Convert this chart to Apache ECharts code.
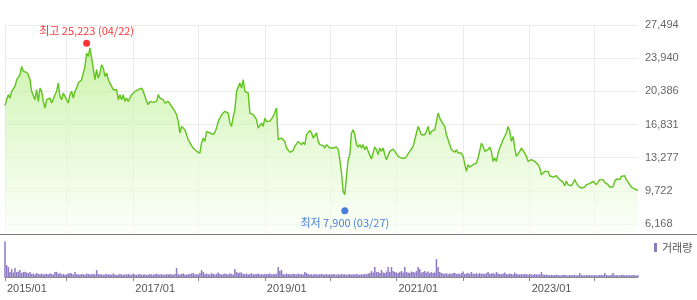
<!DOCTYPE html>
<html>
<head>
<meta charset="utf-8">
<script src="https://cdn.jsdelivr.net/npm/echarts@6/dist/echarts.min.js"></script>
<style>html,body{margin:0;padding:0;background:#fff;}#c{width:697px;height:300px;}</style>
</head>
<body>
<div id="c"></div>
<script>
// ---- data ----
const closePrice = [
18850,19490,20030,19670,20380,20200,20920,21630,21630,22170,
23060,22530,22350,22420,22170,21630,20380,20560,19490,20560,
19310,20740,20380,19310,18600,19490,19670,19670,19130,19130,
20030,20380,21280,19850,19490,20200,20030,19490,19130,20030,
20380,19670,20380,20740,21280,21100,21630,22350,23060,24490,
24130,25030,23950,24130,21630,22700,21810,22350,23240,22880,
21990,22350,21630,21450,20920,20560,20560,20560,19490,20030,
19490,20030,19310,19670,19310,19670,20030,20030,20380,20380,
20560,20380,20740,20380,19850,19310,18950,19310,19130,19200,
19060,19310,20030,19670,19850,19490,19130,
18950,19310,19130,18770,18600,18240,17880,17170,15920,16630,
16450,16270,16100,15200,14850,14560,14310,14130,13950,13850,
13770,14850,15380,15020,16100,16270,15920,16100,15740,15990,
16450,17170,17520,17880,18060,18240,18420,18060,16990,16630,
17700,18420,20380,20380,21280,20740,21630,20380,20200,20200,
18060,17880,17880,17700,17350,16450,16450,16990,16630,17520,
17170,17350,17170,17170,17700,17880,18600,15200,15380,15380,
15200,15020,14310,14130,13850,13950,14060,14490,14560,15020,
14850,14670,14920,14670,15740,15560,16200,15920,15380,15270,
15920,15020,14670,
14490,14560,14310,14670,14490,14310,14130,14310,14490,14420,
14130,13060,11630,9670,9310,11270,13060,13600,15920,16270,
15740,14670,14420,14670,14310,14670,14130,14490,13950,13850,
13130,13240,14420,14130,13600,14310,13950,14310,13600,13060,
13130,13950,14060,14200,13950,13770,13420,13350,13240,13420,
13200,13420,13310,13950,14060,14490,15200,15920,16630,16810,
15740,15740,15740,16100,16630,15740,16100,16100,16270,17170,
18060,17520,17170,16990,16630,15740,15200,15020,14130,13950,
13850,14130,13770,13600,13770,13420,13240,11810,12520,12270,
12350,12520,12700,12700,13240,13420,
14840,14490,13950,13770,14130,14420,13950,12880,13240,12880,
13770,14310,14490,15200,15020,15920,16630,16100,15020,15560,
14310,13420,13590,13950,14310,14130,13770,13420,12880,12880,
13060,13060,12880,12700,12520,12170,11450,11450,11810,11630,
11810,11340,11270,11200,11270,11340,11200,10920,10740,10630,
10270,10740,10380,10560,10270,10560,10920,10560,10270,10130,
10020,10130,10130,10380,10380,10490,10380,10740,10560,10380,
10630,10920,10990,10920,10630,10490,10380,10130,10020,10130,
10740,10990,11090,10920,11270,11090,11340,10920,10740,10380,
10130,10020,9920,9840,9770
];
const volume = [
3600,1200,1000,500,800,450,900,500,550,700,400,500,520,450,380,500,300,350,250,400,
300,280,350,250,300,320,260,380,300,250,500,520,300,400,250,300,220,280,350,400,
350,250,500,300,260,240,300,280,220,350,300,250,280,320,260,700,300,250,280,220,
260,300,240,280,220,350,260,200,240,300,260,220,280,240,300,260,220,350,240,200,
260,300,220,250,280,200,240,300,260,220,280,350,240,260,300,220,250,280,240,300,
260,220,300,900,280,240,300,350,260,220,300,280,350,400,260,300,240,400,700,500,
300,350,280,260,400,300,250,320,450,300,260,280,350,300,250,380,300,260,800,500,
400,450,450,300,280,350,260,300,380,250,300,280,350,260,300,250,320,280,300,350,
260,300,280,350,1000,600,700,300,260,350,280,300,250,320,300,260,350,280,300,250,
500,400,300,250,280,220,300,260,240,280,300,250,260,300,220,280,250,300,260,240,
280,250,300,260,280,220,260,300,240,280,250,300,260,220,280,240,300,260,350,400,
600,450,1000,500,500,400,700,450,400,550,1000,500,1000,600,500,450,400,500,600,450,
1000,500,450,400,550,500,450,600,1000,800,450,500,600,450,550,400,500,400,450,1800,
1000,500,400,350,300,400,280,350,300,400,400,300,350,280,400,550,300,350,400,300,
500,350,300,400,280,400,300,350,280,400,500,300,350,400,300,500,350,300,280,350,
450,300,280,350,300,260,450,300,280,250,300,260,300,280,250,300,260,220,300,250,
280,240,500,260,220,250,200,180,220,200,180,240,200,160,180,220,200,180,160,200,
180,200,220,160,180,400,200,180,160,200,180,220,160,180,200,160,180,200,220,180,
400,200,180,160,220,400,180,200,160,180,200,220,180,160,200,180,160,200,180,160,
180
];
const yearTickIndex = [0, 37, 77, 116, 156, 195, 235, 275, 315, 354];
const yearTickLabel = ['2015/01', '', '2017/01', '', '2019/01', '', '2021/01', '', '2023/01', ''];
const priceTickLabels = ['6,168', '9,722', '13,277', '16,831', '20,386', '23,940', '27,494'];
const priceAxisMin = 5096, priceAxisMax = 27494;
const highPoint = { index: 49, value: 25223, label: '최고 25,223 (04/22)' };
const lowPoint = { index: 204, value: 7900, label: '최저 7,900 (03/27)' };
const volumeName = '거래량';

// ---- chart ----
const cats = closePrice.map((_, i) => String(i));
const isYear = (i) => yearTickIndex.indexOf(i) >= 0;
const labelFor = (i) => { const k = yearTickIndex.indexOf(i); return k >= 0 ? yearTickLabel[k] : ''; };
const chart = echarts.init(document.getElementById('c'), null, { renderer: 'canvas' });
chart.setOption({
  animation: false,
  textStyle: { fontFamily: 'Liberation Sans, Arial, sans-serif' },
  grid: [
    { left: 5, right: 59, top: 25, height: 209 },
    { left: 5, right: 59, top: 240, height: 37 },
    { left: 5, right: 59, top: 25, height: 199 }
  ],
  legend: {
    data: [{ name: volumeName, icon: 'rect' }],
    left: 654, top: 242, itemWidth: 3, itemHeight: 9, itemGap: 0, padding: 0,
    selectedMode: false,
    textStyle: { fontSize: 11, color: '#555', fontFamily: 'Noto Sans CJK KR' }
  },
  xAxis: [
    { type: 'category', gridIndex: 0, data: cats, boundaryGap: false,
      axisLine: { show: false }, axisTick: { show: false }, axisLabel: { show: false },
      splitLine: { show: true, interval: (i) => isYear(i), lineStyle: { color: '#ebebeb', width: 1 } } },
    { type: 'category', gridIndex: 1, data: cats, boundaryGap: false,
      axisLine: { show: true, lineStyle: { color: '#8a8a8a' } },
      axisTick: { show: true, interval: (i) => isYear(i), length: 4, lineStyle: { color: '#8a8a8a' } },
      axisLabel: { show: true, interval: (i) => labelFor(i) !== '', formatter: (v, i) => labelFor(i),
        align: 'left', margin: 6, padding: [0, 0, 0, 2], color: '#555', fontSize: 11,
        fontFamily: 'Liberation Sans, Arial, sans-serif' },
      splitLine: { show: false } },
    { type: 'value', gridIndex: 2, min: 0, max: 1, show: false }
  ],
  yAxis: [
    { type: 'value', gridIndex: 0, min: priceAxisMin, max: priceAxisMax, show: false, splitLine: { show: false } },
    { type: 'value', gridIndex: 1, min: 0, max: 3730, show: false, splitLine: { show: false } },
    { type: 'value', gridIndex: 2, min: 0, max: priceTickLabels.length - 1, interval: 1, position: 'right',
      axisLine: { show: false }, axisTick: { show: false },
      axisLabel: { margin: 7, color: '#666', fontSize: 11, formatter: (v) => priceTickLabels[Math.round(v)],
        fontFamily: 'Liberation Sans, Arial, sans-serif' },
      splitLine: { show: true, lineStyle: { color: '#ebebeb', width: 1 } } }
  ],
  series: [
    { type: 'line', name: 'grid', xAxisIndex: 2, yAxisIndex: 2, data: [], silent: true },
    { type: 'line', name: 'price', xAxisIndex: 0, yAxisIndex: 0, data: closePrice,
      showSymbol: false, symbol: 'none', smooth: false, z: 3,
      lineStyle: { color: '#5fc41c', width: 1.4 },
      areaStyle: { origin: 'start', color: new echarts.graphic.LinearGradient(0, 0, 0, 1, [
        { offset: 0, color: '#b6ec86' }, { offset: 0.5, color: '#dcf7c6' }, { offset: 1, color: '#fafff6' }]) } },
    { type: 'scatter', name: 'marks', xAxisIndex: 0, yAxisIndex: 0, z: 5, clip: false,
      symbolSize: 7,
      data: [
        { value: [highPoint.index, highPoint.value], symbolOffset: [0, -3],
          itemStyle: { color: '#ff0000' },
          label: { show: true, position: 'top', distance: 3, formatter: highPoint.label,
            color: '#ff0000', fontSize: 11, fontFamily: 'Noto Sans CJK KR' } },
        { value: [lowPoint.index, lowPoint.value], symbolOffset: [0, 3],
          itemStyle: { color: '#1a5fd4' },
          label: { show: true, position: 'bottom', distance: 3, formatter: lowPoint.label,
            color: '#1a5fd4', fontSize: 11, fontFamily: 'Noto Sans CJK KR' } }
      ] },
    { type: 'bar', name: volumeName, xAxisIndex: 1, yAxisIndex: 1, data: volume,
      barWidth: 1.5, itemStyle: { color: '#8e79c4' } }
  ],
  graphic: [
    { type: 'line', z: 10, shape: { x1: 0, y1: 234.5, x2: 697, y2: 234.5 }, style: { stroke: '#7a7a7a', lineWidth: 1 } }
  ]
});
</script>
</body>
</html>
